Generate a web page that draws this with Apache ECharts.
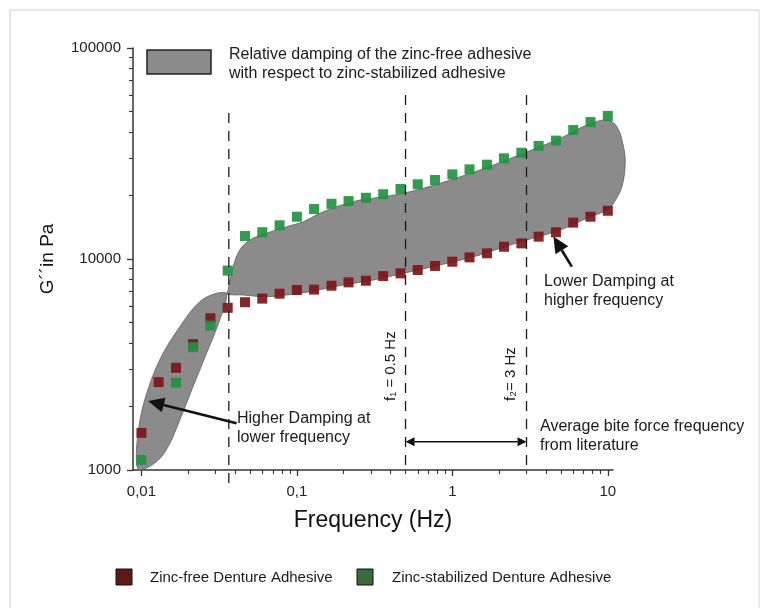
<!DOCTYPE html>
<html><head><meta charset="utf-8">
<script src="https://cdn.jsdelivr.net/npm/echarts@6/dist/echarts.min.js"></script>
<style>html,body{margin:0;padding:0;background:#fff}#c{width:769px;height:608px}</style>
</head><body><div id="c"></div>
<script>
// ---- data ----
const frequencies = [0.01,0.0129,0.0167,0.0215,0.0278,0.0359,0.0464,0.0599,0.0774,0.1,0.129,0.167,0.215,0.278,0.359,0.464,0.599,0.774,1,1.29,1.67,2.15,2.78,3.59,4.64,5.99,7.74,10];
const zincFree = [1500,2610,3050,3950,5240,5870,6240,6490,6850,7130,7160,7470,7750,7890,8300,8550,8870,9270,9710,10180,10640,11430,11860,12760,13390,14870,15860,16930];
const zincStabilized = [1115,null,2590,3820,4830,8810,12850,13390,14450,15860,17250,18270,18820,19500,20280,21480,22600,23680,25180,26600,27990,30000,31900,34350,36400,40850,44550,47650];
const xTickLabels = [0.01,0.1,1,10];
const xMinorTicks = [0.02,0.03,0.04,0.05,0.06,0.07,0.08,0.09,0.2,0.3,0.4,0.5,0.6,0.7,0.8,0.9,2,3,4,5,6,7,8,9];
const yTickLabels = [1000,10000,100000];
const yMinorTicks = [2000,3000,4000,5000,6000,7000,8000,9000,20000,30000,40000,50000,60000,70000,80000,90000];
// relative damping region outlines [frequency, G'']
const dampingLowFreq = [[0.00975,1000],[0.00929,1076],[0.00951,1496],[0.0105,2148],[0.0131,3319],[0.01766,4775],[0.02373,6278],[0.0304,6874],[0.03526,6823],[0.0319,5140],[0.02624,3573],[0.02149,2484],[0.01766,1726],[0.01483,1288],[0.0125,1094]];
const dampingHighFreq = [[0.03526,6823],[0.03614,7129],[0.03892,9205],[0.04296,11040],[0.0498,12310],[0.06379,13240],[0.0859,14230],[0.1099,15020],[0.1407,16470],[0.1802,17710],[0.2546,19050],[0.31,19420],[0.4831,20480],[0.8337,22850],[1.508,26420],[1.836,27880],[2.865,31680],[4.943,37330],[7.335,43150],[9.86,45620],[11.45,42360],[12.62,34060],[12.94,28440],[12.33,22030],[10.89,18370],[9.86,17060],[7.33,15590],[4.94,13710],[3.013,12300],[2.027,11240],[1.507,10450],[0.834,9370],[0.483,8550],[0.31,7950],[0.1986,7530],[0.1213,7000],[0.0859,6750],[0.0638,6620],[0.0523,6680],[0.0451,6750]];
// vertical guide lines [frequency, top G'', bottom G'']
const guideLines = [[0.0365,49200,830],[0.5,59800,1000],[3,59800,1000]];
// arrows [fromF, fromG, toF, toG]
const arrowHigher = [0.0409,1664,0.01104,2123];
const arrowLower = [5.87,9200,4.47,12770];
const biteRange = [0.5,1360,3,1360];

const FONT = '"Liberation Sans", Arial, sans-serif';
const chart = echarts.init(document.getElementById('c'), null, {renderer:'canvas'});

function head(tip, from, len, half){
  const dx = tip[0]-from[0], dy = tip[1]-from[1];
  const d = Math.hypot(dx,dy), ux = dx/d, uy = dy/d;
  const bx = tip[0]-ux*len, by = tip[1]-uy*len;
  return {pts:[[tip[0],tip[1]],[bx-uy*half,by+ux*half],[bx+uy*half,by-ux*half]], base:[bx,by]};
}

const shapes = [dampingLowFreq, dampingHighFreq];
const arrows = [arrowHigher, arrowLower, biteRange];

const commonX = {type:'log', logBase:10, min:0.00883, max:10.8, gridIndex:0, position:'bottom', splitLine:{show:false}};
const commonY = {type:'log', logBase:10, min:1000, max:100000, gridIndex:0, position:'left', splitLine:{show:false}};

const option = {
  backgroundColor:'#fff',
  animation:false,
  grid:{left:133, right:156, top:48, bottom:138},
  xAxis:[
    Object.assign({}, commonX, {
      axisLine:{show:true, lineStyle:{color:'#333', width:1.5}},
      axisTick:{show:true, length:6, customValues:xTickLabels, lineStyle:{color:'#333', width:1.3}},
      axisLabel:{show:true, customValues:xTickLabels, margin:14, fontSize:15, fontFamily:FONT, color:'#222',
        formatter:v=>String(+v.toPrecision(3)).replace('.',',')},
      name:'Frequency (Hz)', nameLocation:'middle', nameGap:39,
      nameTextStyle:{fontSize:23, fontFamily:FONT, color:'#111'}
    }),
    Object.assign({}, commonX, {
      axisLine:{show:false, onZero:false},
      axisTick:{show:true, length:4, customValues:xMinorTicks, lineStyle:{color:'#333', width:1.1}},
      axisLabel:{show:false}
    })
  ],
  yAxis:[
    Object.assign({}, commonY, {
      axisLine:{show:true, lineStyle:{color:'#333', width:1.5}},
      axisTick:{show:true, length:6, customValues:yTickLabels, lineStyle:{color:'#333', width:1.3}},
      axisLabel:{show:true, customValues:yTickLabels, margin:12, fontSize:15, fontFamily:FONT, color:'#222',
        formatter:v=>String(Math.round(v))},
      name:'G´´in Pa', nameLocation:'middle', nameGap:76,
      nameTextStyle:{fontSize:19, fontFamily:FONT, color:'#111'}
    }),
    Object.assign({}, commonY, {
      axisLine:{show:false, onZero:false},
      axisTick:{show:true, length:4, customValues:yMinorTicks, lineStyle:{color:'#333', width:1.1}},
      axisLabel:{show:false}
    })
  ],
  series:[
    {
      type:'custom', name:'damping', silent:true, clip:false, z:1,
      data: shapes.map((s,i)=>[s[0][0], s[0][1], i]),
      renderItem:(params, api)=>{
        const poly = shapes[params.dataIndex];
        return {type:'polygon', shape:{points:poly.map(p=>api.coord(p)), smooth:0.35},
          style:{fill:'#8b8b8b', stroke:'#5e5e5e', lineWidth:0.8}};
      }
    },
    {
      type:'scatter', name:'Zinc-free Denture Adhesive', symbol:'rect', symbolSize:10, z:3,
      itemStyle:{color:'#7d1518', opacity:0.92},
      data: frequencies.map((f,i)=>[f, zincFree[i]])
    },
    {
      type:'scatter', name:'Zinc-stabilized Denture Adhesive', symbol:'rect', symbolSize:10, z:4,
      itemStyle:{color:'#1f933f', opacity:0.92},
      data: frequencies.map((f,i)=>[f, zincStabilized[i]]).filter(d=>d[1]!=null)
    },
    {
      type:'custom', name:'guides', silent:true, clip:false, z:5,
      data: guideLines.map(g=>[g[0], g[1], g[2]]),
      renderItem:(params, api)=>{
        const a = api.coord([api.value(0), api.value(1)]);
        const b = api.coord([api.value(0), api.value(2)]);
        return {type:'line', shape:{x1:a[0], y1:a[1], x2:b[0], y2:b[1]},
          style:{stroke:'#1a1a1a', lineWidth:1.3, lineDash:[10,8]}};
      }
    },
    {
      type:'custom', name:'arrows', silent:true, clip:false, z:6,
      data: arrows.map(a=>[a[0], a[1], a[2], a[3]]),
      renderItem:(params, api)=>{
        const p0 = api.coord([api.value(0), api.value(1)]);
        const p1 = api.coord([api.value(2), api.value(3)]);
        const children = [];
        if (params.dataIndex < 2) {
          const h = head(p1, p0, 16, 7.5);
          children.push({type:'line', shape:{x1:p0[0], y1:p0[1], x2:h.base[0], y2:h.base[1]}, style:{stroke:'#111', lineWidth:2.6}});
          children.push({type:'polygon', shape:{points:h.pts}, style:{fill:'#111'}});
        } else {
          const h1 = head(p1, p0, 9, 4.5), h0 = head(p0, p1, 9, 4.5);
          children.push({type:'line', shape:{x1:h0.base[0], y1:h0.base[1], x2:h1.base[0], y2:h1.base[1]}, style:{stroke:'#111', lineWidth:1.4}});
          children.push({type:'polygon', shape:{points:h1.pts}, style:{fill:'#111'}});
          children.push({type:'polygon', shape:{points:h0.pts}, style:{fill:'#111'}});
        }
        return {type:'group', children};
      }
    }
  ],
  graphic:[
    {type:'line', shape:{x1:10, y1:10, x2:759, y2:10}, style:{stroke:'#dcdcdc', lineWidth:1.5}, silent:true},
    {type:'line', shape:{x1:10, y1:10, x2:10, y2:608}, style:{stroke:'#dcdcdc', lineWidth:1.5}, silent:true},
    {type:'line', shape:{x1:759, y1:10, x2:759, y2:608}, style:{stroke:'#e6e6e6', lineWidth:1.5}, silent:true},
    {type:'rect', shape:{x:147, y:50, width:64, height:24}, style:{fill:'#8b8b8b', stroke:'#222', lineWidth:1.5}, silent:true},
    {type:'text', x:229, y:55, style:{text:'Relative damping of the zinc-free adhesive', font:'16px '+FONT, fill:'#1a1a1a', align:'left', verticalAlign:'middle'}},
    {type:'text', x:229, y:74, style:{text:'with respect to zinc-stabilized adhesive', font:'16px '+FONT, fill:'#1a1a1a', align:'left', verticalAlign:'middle'}},
    {type:'text', x:237, y:419, style:{text:'Higher Damping at', font:'16px '+FONT, fill:'#1a1a1a', align:'left', verticalAlign:'middle'}},
    {type:'text', x:237, y:438, style:{text:'lower frequency', font:'16px '+FONT, fill:'#1a1a1a', align:'left', verticalAlign:'middle'}},
    {type:'text', x:544, y:282, style:{text:'Lower Damping at', font:'16px '+FONT, fill:'#1a1a1a', align:'left', verticalAlign:'middle'}},
    {type:'text', x:544, y:301, style:{text:'higher frequency', font:'16px '+FONT, fill:'#1a1a1a', align:'left', verticalAlign:'middle'}},
    {type:'text', x:540, y:427, style:{text:'Average bite force frequency', font:'16px '+FONT, fill:'#1a1a1a', align:'left', verticalAlign:'middle'}},
    {type:'text', x:540, y:446, style:{text:'from literature', font:'16px '+FONT, fill:'#1a1a1a', align:'left', verticalAlign:'middle'}},
    {type:'text', x:391, y:401, rotation:Math.PI/2, style:{text:'f₁ = 0.5 Hz', font:'15px '+FONT, fill:'#1a1a1a', align:'left', verticalAlign:'middle'}},
    {type:'text', x:511, y:401, rotation:Math.PI/2, style:{text:'f₂= 3 Hz', font:'15px '+FONT, fill:'#1a1a1a', align:'left', verticalAlign:'middle'}},
    {type:'rect', shape:{x:116, y:569, width:16, height:16}, style:{fill:'#5e1a12', stroke:'#111', lineWidth:1}, silent:true},
    {type:'text', x:150, y:578, style:{text:'Zinc-free Denture Adhesive', font:'15px '+FONT, fill:'#1a1a1a', align:'left', verticalAlign:'middle'}},
    {type:'rect', shape:{x:357, y:569, width:16, height:16}, style:{fill:'#3b6b36', stroke:'#111', lineWidth:1}, silent:true},
    {type:'text', x:392, y:578, style:{text:'Zinc-stabilized Denture Adhesive', font:'15px '+FONT, fill:'#1a1a1a', align:'left', verticalAlign:'middle'}}
  ]
};
chart.setOption(option);
</script>
</body></html>
